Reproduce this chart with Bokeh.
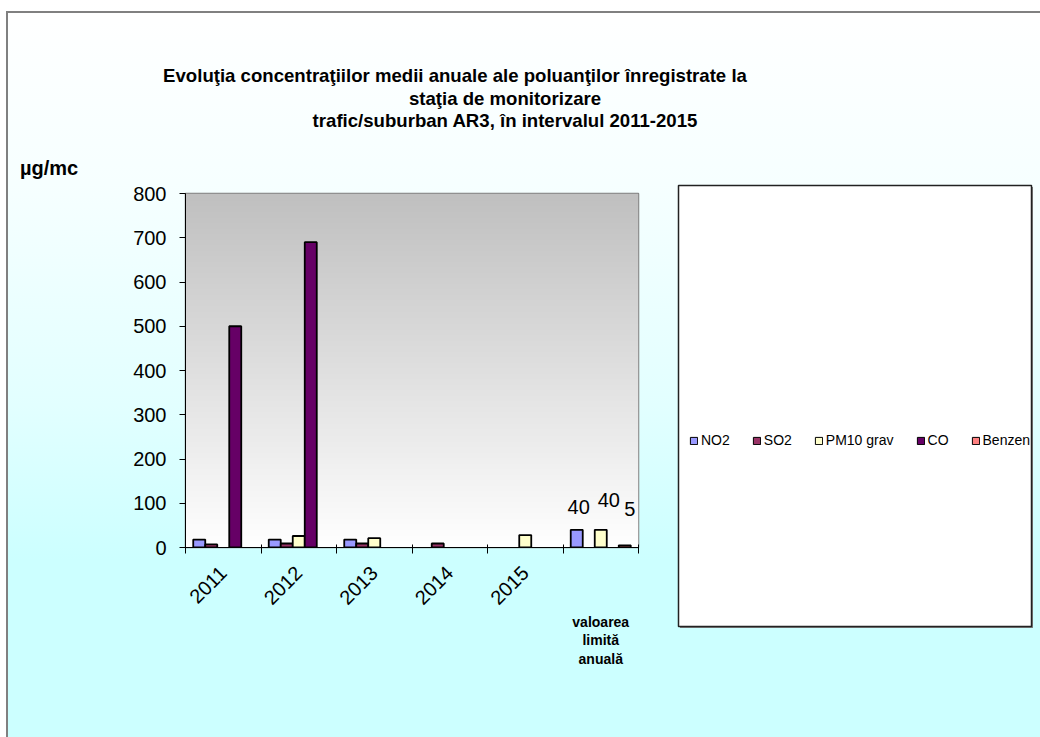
import math
import numpy as np
from bokeh.plotting import figure
from bokeh.layouts import column, row
from bokeh.models import (Range1d, FixedTicker, Legend, LegendItem, LinearAxis,
                          ColumnDataSource, Div)
from bokeh.core.properties import value
from bokeh.transform import dodge
from bokeh.embed import file_html
from bokeh.resources import INLINE

# ---------------- data ----------------
categories = ["2011", "2012", "2013", "2014", "2015", "valoarea limită anuală"]
series_names = ["NO2", "SO2", "PM10 grav", "CO", "Benzen"]
nan = float("nan")
no2 = [18, 18, 18, nan, nan, 40]
so2 = [7, 9, 9, 9, nan, nan]
pm10 = [nan, 26, 21, nan, 28, 40]
co = [500, 690, nan, nan, nan, nan]
benzen = [nan, nan, nan, nan, nan, 5]
y_ticks = [0, 100, 200, 300, 400, 500, 600, 700, 800]
title_lines = ["Evoluţia concentraţiilor medii anuale ale poluanţilor înregistrate la",
               "staţia de monitorizare",
               "trafic/suburban AR3, în intervalul 2011-2015"]
y_unit = "µg/mc"

colors = ["#9999FF", "#993366", "#FFFFCC", "#660066", "#FF8080"]
FONT = "Liberation Sans"

TOP_H = 180
CH_W = 660
LG_W = 1040 - CH_W
FIG_H = 737 - TOP_H

# ---------------- title strip ----------------
title_pos = [(455, 76), (505, 99), (505, 121)]
html = '<div style="position:relative;width:1040px;height:%dpx;">' % TOP_H
for txt, (cx, cy) in zip(title_lines, title_pos):
    html += ('<div style="position:absolute;left:%dpx;top:%dpx;transform:translate(-50%%,-50%%);'
             'white-space:nowrap;font-family:\'Liberation Sans\';font-weight:bold;'
             'font-size:18.6px;color:black;">%s</div>' % (cx, cy, txt))
html += ('<div style="position:absolute;left:20px;top:168px;transform:translate(0,-50%%);'
         'white-space:nowrap;font-family:\'Liberation Sans\';font-weight:bold;'
         'font-size:20px;color:black;">%s</div>' % y_unit)
html += '</div>'
title_div = Div(text=html, width=1040, height=TOP_H, margin=0)

# ---------------- chart ----------------
p = figure(width=CH_W, height=FIG_H, x_range=Range1d(0, len(categories)),
           y_range=Range1d(0, 800), output_backend="svg", toolbar_location=None,
           min_border_left=185, min_border_right=CH_W - 638, min_border_top=193 - TOP_H,
           min_border_bottom=FIG_H - (193 - TOP_H) - 354, margin=0)
p.background_fill_color = None
p.border_fill_color = None
p.outline_line_color = "#808080"
p.outline_line_width = 1.5
p.grid.visible = False

n = 256
img = np.empty((n, 1), dtype=np.uint32)
view = img.view(dtype=np.uint8).reshape((n, 1, 4))
g = np.linspace(255, 192, n).astype(np.uint8)
view[:, 0, 0] = g
view[:, 0, 1] = g
view[:, 0, 2] = g
view[:, 0, 3] = 255
p.image_rgba(image=[img], x=0, y=0, dw=len(categories), dh=800, level="image")

xpos = [i + 0.5 for i in range(len(categories))]
src = ColumnDataSource(dict(x=xpos, no2=no2, so2=so2, pm10=pm10, co=co, benzen=benzen))
cols = ["no2", "so2", "pm10", "co", "benzen"]
bw = 0.159
offsets = [-2 * bw, -bw, 0, bw, 2 * bw]
for col, off, c in zip(cols, offsets, colors):
    p.vbar(x=dodge("x", off), top=col, bottom=0, width=bw, source=src,
           fill_color=c, line_color="black", line_width=1.8)

lab_src = ColumnDataSource(dict(
    x=[xpos[-1] + offsets[0], xpos[-1] + offsets[2], xpos[-1] + offsets[4]],
    y=[no2[-1], pm10[-1], benzen[-1]],
    t=[str(no2[-1]), str(pm10[-1]), str(benzen[-1])],
    xo=[2, 8, 5], yo=[-23, -30, -36]))
p.text(x="x", y="y", text="t", x_offset="xo", y_offset="yo", source=lab_src,
       text_font=value(FONT), text_font_size="20px", text_color="black",
       text_align="center", text_baseline="middle")

xa = p.xaxis[0]
xa.ticker = FixedTicker(ticks=xpos[:-1], minor_ticks=list(range(len(categories) + 1)))
xa.major_label_overrides = {xpos[i]: categories[i] for i in range(len(categories) - 1)}
xa.major_tick_out = 0
xa.major_tick_in = 0
xa.minor_tick_out = 6
xa.minor_tick_in = 3
xa.minor_tick_line_color = "black"
xa.axis_line_color = "black"
xa.major_label_orientation = math.pi / 4
xa.major_label_text_font = FONT
xa.major_label_text_font_size = "20px"
xa.major_label_text_color = "black"
xa.major_label_standoff = 16

xa2 = LinearAxis(ticker=FixedTicker(ticks=[xpos[-1]], minor_ticks=[]))
xa2.major_label_overrides = {xpos[-1]: "\n".join(categories[-1].split())}
xa2.axis_line_color = None
xa2.major_tick_line_color = None
xa2.minor_tick_line_color = None
xa2.major_label_text_font = FONT
xa2.major_label_text_font_style = "bold"
xa2.major_label_text_font_size = "14px"
xa2.major_label_text_line_height = 1.16
xa2.major_label_text_color = "black"
xa2.major_label_standoff = -6
p.add_layout(xa2, "below")

ya = p.yaxis[0]
ya.ticker = FixedTicker(ticks=y_ticks)
ya.major_tick_out = 6
ya.major_tick_in = 0
ya.minor_tick_line_color = None
ya.axis_line_color = "black"
ya.major_tick_line_color = "black"
ya.major_label_text_font = FONT
ya.major_label_text_font_size = "20px"
ya.major_label_text_color = "black"
ya.major_label_standoff = 13

# ---------------- legend box ----------------
lg = figure(width=LG_W, height=FIG_H, x_range=Range1d(0, 1), y_range=Range1d(0, 1),
            output_backend="svg", toolbar_location=None,
            x_axis_location=None, y_axis_location=None,
            min_border_left=678 - CH_W, min_border_right=1040 - 1031,
            min_border_top=185 - TOP_H, min_border_bottom=FIG_H - (185 - TOP_H) - 441,
            margin=0)
lg.grid.visible = False
lg.background_fill_color = "white"
lg.border_fill_color = None
lg.outline_line_color = "#222222"
lg.outline_line_width = 1.5
lg.styles = {"background": "linear-gradient(#808080,#808080) %dpx %dpx / %dpx %dpx no-repeat"
             % (678 - CH_W + 2, 185 - TOP_H + 2, 353, 441)}
for fig in (p, lg):
    if "frame_align" in fig.properties():
        fig.frame_align = False

items = []
for name, c in zip(series_names, colors):
    r = lg.vbar(x=[0.5], top=[nan], bottom=[0], width=0.1, fill_color=c,
                line_color="black", line_width=1)
    items.append(LegendItem(label=name, renderers=[r]))
legend = Legend(items=items, orientation="horizontal", location=(11, 178),
                glyph_width=9, glyph_height=9, label_standoff=3, spacing=22,
                padding=0, margin=0, border_line_color=None, background_fill_alpha=0,
                label_text_font=FONT, label_text_font_size="14px", label_height=9,
                label_text_color="black")
lg.add_layout(legend)

layout = column(title_div, row(column(p, margin=0), column(lg, margin=0), margin=0, spacing=0),
                margin=0, spacing=0)
layout.styles = {
    "background": "linear-gradient(#FFFFFF,#FFFFFF) 0px 0px / 6px 100% no-repeat, "
                  "linear-gradient(#808080,#808080) 6px 11px / 2px 100% no-repeat, "
                  "linear-gradient(#808080,#808080) 6px 11px / 100% 2px no-repeat, "
                  "linear-gradient(to bottom, #FFFFFF 0%, #F6FFFF 25%, #E2FFFF 55%, #CCFFFF 76%, #CCFFFF 100%)"
}

open("out.html", "w").write(file_html(layout, INLINE))
